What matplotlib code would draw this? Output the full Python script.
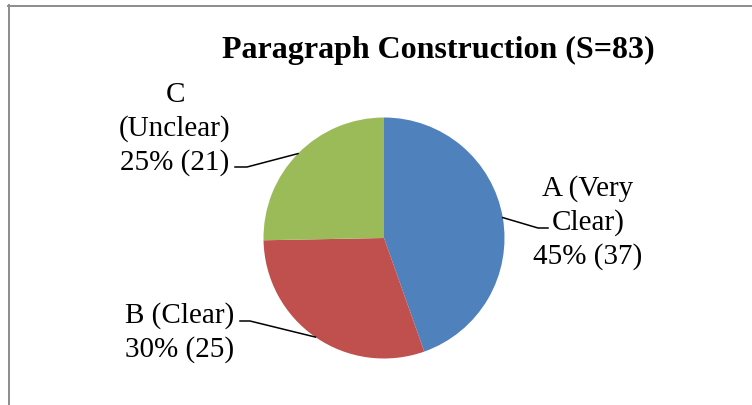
import numpy as np
import matplotlib
matplotlib.use("Agg")
import matplotlib.pyplot as plt
from matplotlib.lines import Line2D

# data
categories = ["A (Very Clear)", "B (Clear)", "C (Unclear)"]
counts = [37, 25, 21]
colors = ["#4F81BD", "#C0504D", "#9BBB59"]
title = "Paragraph Construction (S=83)"

W, H = 752, 406
CX, CY, R = 384, 239, 120.5   # pie centre / radius in pixels


def px(x, y):
    # pixel position -> data coords (pie radius = 1)
    return (x - CX) / R, (CY - y) / R


plt.rcParams["font.family"] = ["Liberation Serif", "DejaVu Serif"]

fig = plt.figure(figsize=(W / 100, H / 100), dpi=100)
ax = fig.add_axes([0, 0, 1, 1])
wedges, _ = ax.pie(counts, colors=colors, startangle=90, counterclock=False,
                   radius=1, wedgeprops=dict(linewidth=0))
ax.set_xlim(px(0, 0)[0], px(W, 0)[0])
ax.set_ylim(px(0, H)[1], px(0, 0)[1])
ax.set_aspect("auto")
ax.axis("off")

# frame (only left and top edges visible)
fig.add_artist(Line2D([8.5 / W, 8.5 / W], [0, 1 - 6 / H], color="#8c8c8c", lw=1.4,
                      transform=fig.transFigure))
fig.add_artist(Line2D([8 / W, 1], [1 - 6.5 / H, 1 - 6.5 / H], color="#8c8c8c", lw=1.4,
                      transform=fig.transFigure))

ax.text(*px(438, 58), title, ha="center", va="baseline", fontsize=23, fontweight="bold")

total = sum(counts)
pcts = [round(c / total * 100) for c in counts]

# label layout: lines, centre x, baselines, elbow and end of leader line
layout = [
    (["A (Very", "Clear)"], 588, [196, 230, 264], (538, 229), (548, 229)),
    (["B (Clear)"], 180, [323, 357], (250, 322), (240, 322)),
    (["C", "(Unclear)"], 175, [102, 136, 170], (247, 168), (235, 168)),
]

for w, c, p, (lines, tx, bases, elbow, end) in zip(wedges, counts, pcts, layout):
    mid = np.deg2rad((w.theta1 + w.theta2) / 2)
    edge = (np.cos(mid), np.sin(mid))
    xs = [edge[0], px(*elbow)[0], px(*end)[0]]
    ys = [edge[1], px(*elbow)[1], px(*end)[1]]
    ax.plot(xs, ys, color="black", lw=1.1)
    for line, b in zip(lines + [f"{p}% ({c})"], bases):
        ax.text(*px(tx, b), line, ha="center", va="baseline", fontsize=21)

fig.savefig("out.png", dpi=100)
